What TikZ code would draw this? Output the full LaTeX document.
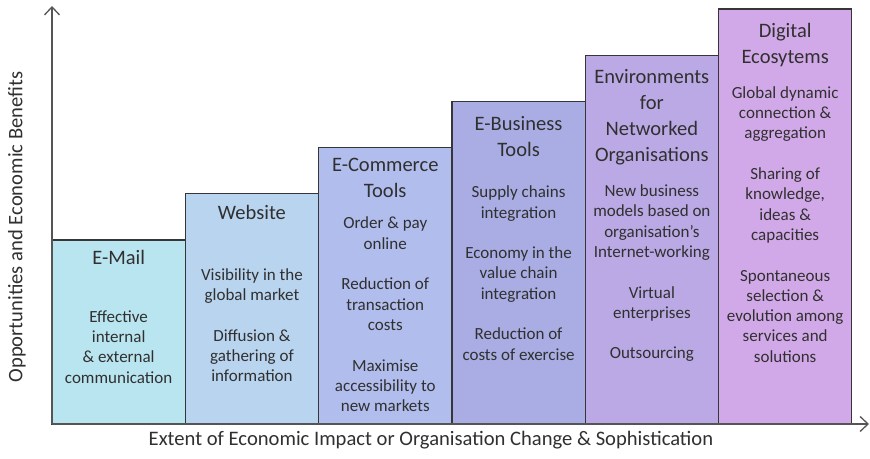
\documentclass[tikz,border=0pt]{standalone}
\usepackage{fontspec}
\setmainfont{Carlito}
\usepackage{tikz}
\usetikzlibrary{arrows.meta,positioning}

\definecolor{boxline}{HTML}{363636}
\definecolor{axisline}{HTML}{555555}
\definecolor{txtgray}{HTML}{303030}
\definecolor{cMail}{HTML}{B9E5F0}
\definecolor{cWeb}{HTML}{B9D4EF}
\definecolor{cCom}{HTML}{B1BDEC}
\definecolor{cBus}{HTML}{A9ADE3}
\definecolor{cEnv}{HTML}{BAA9E4}
\definecolor{cDig}{HTML}{D2A9E8}

\tikzset{
	stage/.style={draw=boxline, line width=1.3pt, outer sep=0pt, inner sep=0pt, minimum width=133.3pt, anchor=south west},
	stagetitle/.style={align=center, inner sep=0pt, text=txtgray, font=\fontsize{20.5}{26}\selectfont, execute at begin node=\strut},
	stagetext/.style={align=center, inner sep=0pt, text=txtgray, font=\fontsize{17}{20.3}\selectfont, execute at begin node=\strut},
	axislabel/.style={inner sep=0pt, text=txtgray, font=\fontsize{20.6}{24}\selectfont}
}
\newcommand{\gap}{\\[20.3pt]}

\begin{document}
\begin{tikzpicture}[>={Straight Barb[length=8pt,width=15pt]}, x=1pt, y=1pt]
	\useasboundingbox (-52,-34) rectangle (818,424);

	% the six stages, each one step higher than the last
	\node[stage, fill=cMail, minimum height=184pt]   (MAIL) at (0,0) {};
	\node[stage, fill=cWeb,  minimum height=230.2pt] (WEB)  [right=0pt of MAIL.south east, anchor=south west] {};
	\node[stage, fill=cCom,  minimum height=276.4pt] (COM)  [right=0pt of WEB.south east, anchor=south west] {};
	\node[stage, fill=cBus,  minimum height=322.6pt] (BUS)  [right=0pt of COM.south east, anchor=south west] {};
	\node[stage, fill=cEnv,  minimum height=368.8pt] (ENV)  [right=0pt of BUS.south east, anchor=south west] {};
	\node[stage, fill=cDig,  minimum height=415pt]   (DIG)  [right=0pt of ENV.south east, anchor=south west] {};

	% titles
	\node[stagetitle] (MAILt) [below=6.2pt of MAIL.north]  {E-Mail};
	\node[stagetitle] (WEBt)  [below=7.2pt of WEB.north]   {Website};
	\node[stagetitle] (COMt)  [below=10.2pt of COM.north]  {E-Commerce\\Tools};
	\node[stagetitle] (BUSt)  [below=15.2pt of BUS.north]  {E-Business\\Tools};
	\node[stagetitle] (ENVt)  [below=13.7pt of ENV.north]  {Environments\\for\\Networked\\Organisations};
	\node[stagetitle] (DIGt)  [below=14.2pt of DIG.north]  {Digital\\Ecosytems};

	% benefits of each stage
	\node[stagetext] (MAILb) [below=70.3pt of MAIL.north] {Effective\\internal\\\& external\\communication};
	\node[stagetext] (WEBb)  [below=74.3pt of WEB.north]  {Visibility in the\\global market\gap Diffusion \&\\gathering of\\information};
	\node[stagetext] (COMb)  [below=69.3pt of COM.north]  {Order \& pay\\online\gap Reduction of\\transaction\\costs\gap Maximise\\accessibility to\\new markets};
	\node[stagetext] (BUSb)  [below=84.3pt of BUS.north]  {Supply chains\\integration\gap Economy in the\\value chain\\integration\gap Reduction of\\costs of exercise};
	\node[stagetext] (ENVb)  [below=129.3pt of ENV.north] {New business\\models based on\\organisation’s\\Internet-working\gap Virtual\\enterprises\gap Outsourcing};
	\node[stagetext] (DIGb)  [below=77.3pt of DIG.north]  {Global dynamic\\connection \&\\aggregation\gap Sharing of\\knowledge,\\ideas \&\\capacities\gap Spontaneous\\selection \&\\evolution among\\services and\\solutions};

	% axes
	\coordinate (ytip) at (0,418);
	\coordinate (xtip) at (817,0);
	\draw[->, draw=axisline, line width=1.3pt] (MAIL.south west) -- (ytip);
	\draw[->, draw=axisline, line width=1.3pt] (MAIL.south west) -- (xtip);

	\node[axislabel, rotate=90] (ylab) at (-35,197) {Opportunities and Economic Benefits};
	\node[axislabel]            (xlab) at (379,-16) {Extent of Economic Impact or Organisation Change \& Sophistication};
\end{tikzpicture}
\end{document}
